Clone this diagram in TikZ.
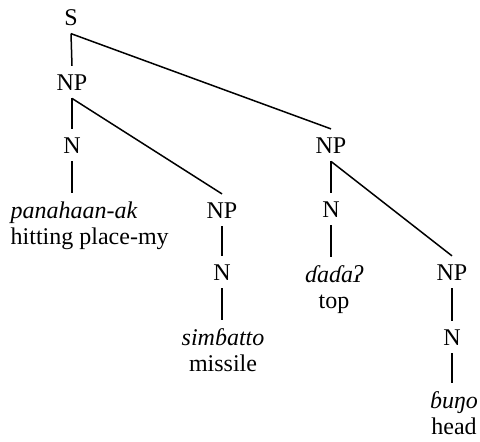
\documentclass[tikz,border=0pt]{standalone}
\usepackage{fontspec}
\setmainfont{Liberation Serif}

\begin{document}
\begin{tikzpicture}[
    x=0.5pt, y=-0.5pt,
    cat/.style={inner sep=4pt, font=\fontsize{12}{14}\selectfont, anchor=base},
    word/.style={cat, font=\fontsize{12}{14}\selectfont\itshape},
    gloss/.style={cat},
    edge/.style={line width=0.75pt},
  ]
    \useasboundingbox (0,0) rectangle (480,441);
    % ─── Categories ───
    \node[cat] (s) at (71,25) {S};
    \node[cat] (np1) at (72,90) {NP};
    \node[cat] (n1) at (72,153) {N};
    \node[cat] (npr) at (331,153) {NP};
    \node[cat] (np2) at (222,218) {NP};
    \node[cat] (n3) at (331,217) {N};
    \node[cat] (n2) at (222,280) {N};
    \node[cat] (np4) at (452,280) {NP};
    \node[cat] (n4) at (452,345) {N};
    % ─── Words and glosses ───
    \node[word] (w1) at (74,218) {panahaan-ak};
    \node[gloss, anchor=base west] (g1) at ([yshift=-13pt]w1.base west) {hitting place-my};
    \node[word] (w2) at (223,345) {simɓatto};
    \node[gloss] (g2) at ([yshift=-13pt]w2.base) {missile};
    \node[word] (w3) at (334,282) {ɗaɗaʔ};
    \node[gloss] (g3) at ([yshift=-13pt]w3.base) {top};
    \node[word] (w4) at (454,408) {ɓuŋo};
    \node[gloss] (g4) at ([yshift=-13pt]w4.base) {head};
    % ─── Branches ───
    \draw[edge] (s.south) -- (np1.north);
    \draw[edge] (s.south) -- (npr.north);
    \draw[edge] (np1.south) -- (n1.north);
    \draw[edge] (np1.south) -- (np2.north);
    \draw[edge] (n1.south) -- (n1.south |- w1.north);
    \draw[edge] (np2.south) -- (n2.north);
    \draw[edge] (n2.south) -- (n2.south |- w2.north);
    \draw[edge] (npr.south) -- (n3.north);
    \draw[edge] (npr.south) -- (np4.north);
    \draw[edge] (n3.south) -- (n3.south |- w3.north);
    \draw[edge] (np4.south) -- (n4.north);
    \draw[edge] (n4.south) -- (n4.south |- w4.north);
\end{tikzpicture}
\end{document}
